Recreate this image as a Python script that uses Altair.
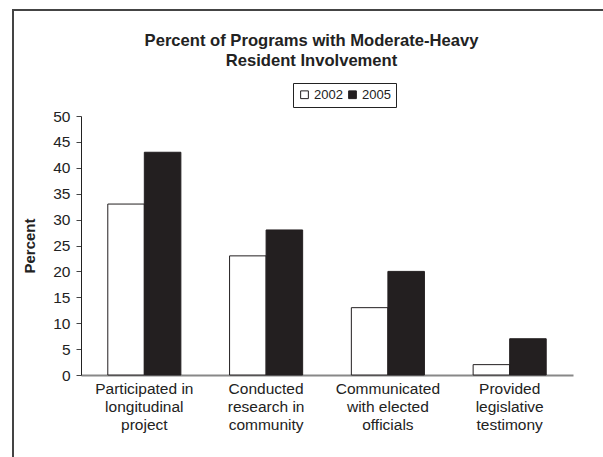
import altair as alt
import pandas as pd

title_lines = ["Percent of Programs with Moderate-Heavy", "Resident Involvement"]
categories = ["Participated in\nlongitudinal\nproject",
              "Conducted\nresearch in\ncommunity",
              "Communicated\nwith elected\nofficials",
              "Provided\nlegislative\ntestimony"]
years = ["2002", "2005"]
values_2002 = [33, 23, 13, 2]
values_2005 = [43, 28, 20, 7]

rows = []
for c, a, b in zip(categories, values_2002, values_2005):
    rows.append({"cat": c, "year": "2002", "val": a})
    rows.append({"cat": c, "year": "2005", "val": b})
df = pd.DataFrame(rows)

FONT = "Liberation Sans"

bars = alt.Chart(df).mark_bar(stroke="#231f20", strokeWidth=1).encode(
    x=alt.X("cat:N", sort=categories,
            scale=alt.Scale(paddingInner=0.4, paddingOuter=0.22),
            axis=alt.Axis(title=None, ticks=False, labelAngle=0,
                          labelExpr="split(datum.label, '\\n')",
                          labelFontSize=15.5, labelColor="#222",
                          labelLineHeight=18, labelPadding=6,
                          domainColor="#888", domainWidth=2)),
    xOffset=alt.XOffset("year:N", sort=years),
    y=alt.Y("val:Q", scale=alt.Scale(domain=[0, 50], nice=False),
            axis=alt.Axis(title="Percent", values=list(range(0, 51, 5)),
                          grid=False, labelFontSize=15.5, labelColor="#222",
                          tickSize=5, tickColor="#444", domainColor="#222",
                          labelPadding=6,
                          titleFontSize=15, titleFontWeight="bold",
                          titleColor="#222", titlePadding=15)),
    fill=alt.Fill("year:N", sort=years,
                  scale=alt.Scale(domain=years, range=["white", "#231f20"]),
                  legend=alt.Legend(title=None, orient="none",
                                    direction="horizontal",
                                    legendX=212, legendY=-33,
                                    symbolType="square", symbolSize=60,
                                    symbolStrokeColor="#231f20",
                                    symbolStrokeWidth=1,
                                    labelFontSize=13, labelColor="#222",
                                    columnPadding=3, labelOffset=3,
                                    strokeColor="#222", padding=5)),
)

one = pd.DataFrame({"a": [0]})
left_border = alt.Chart(one).mark_rule(color="#444", strokeWidth=2).encode(
    x=alt.value(-68), y=alt.value(-106), y2=alt.value(345))
top_border = alt.Chart(one).mark_rule(color="#444", strokeWidth=2).encode(
    x=alt.value(-69), x2=alt.value(540), y=alt.value(-106))
title = alt.Chart(one).mark_text(
    fontSize=16.6, fontWeight="bold", color="#222", font=FONT,
    align="center", baseline="alphabetic", lineHeight=19.5,
).encode(x=alt.value(230.5), y=alt.value(-70), text=alt.value(title_lines))

chart = alt.layer(bars, left_border, top_border, title).properties(
    width=492, height=259,
    autosize=alt.AutoSizeParams(type="none"),
    padding={"left": 81, "top": 116, "right": 30, "bottom": 82},
).configure(font=FONT).configure_view(stroke=None)

chart.save("out.html", embed_options={"renderer": "svg", "actions": False})
